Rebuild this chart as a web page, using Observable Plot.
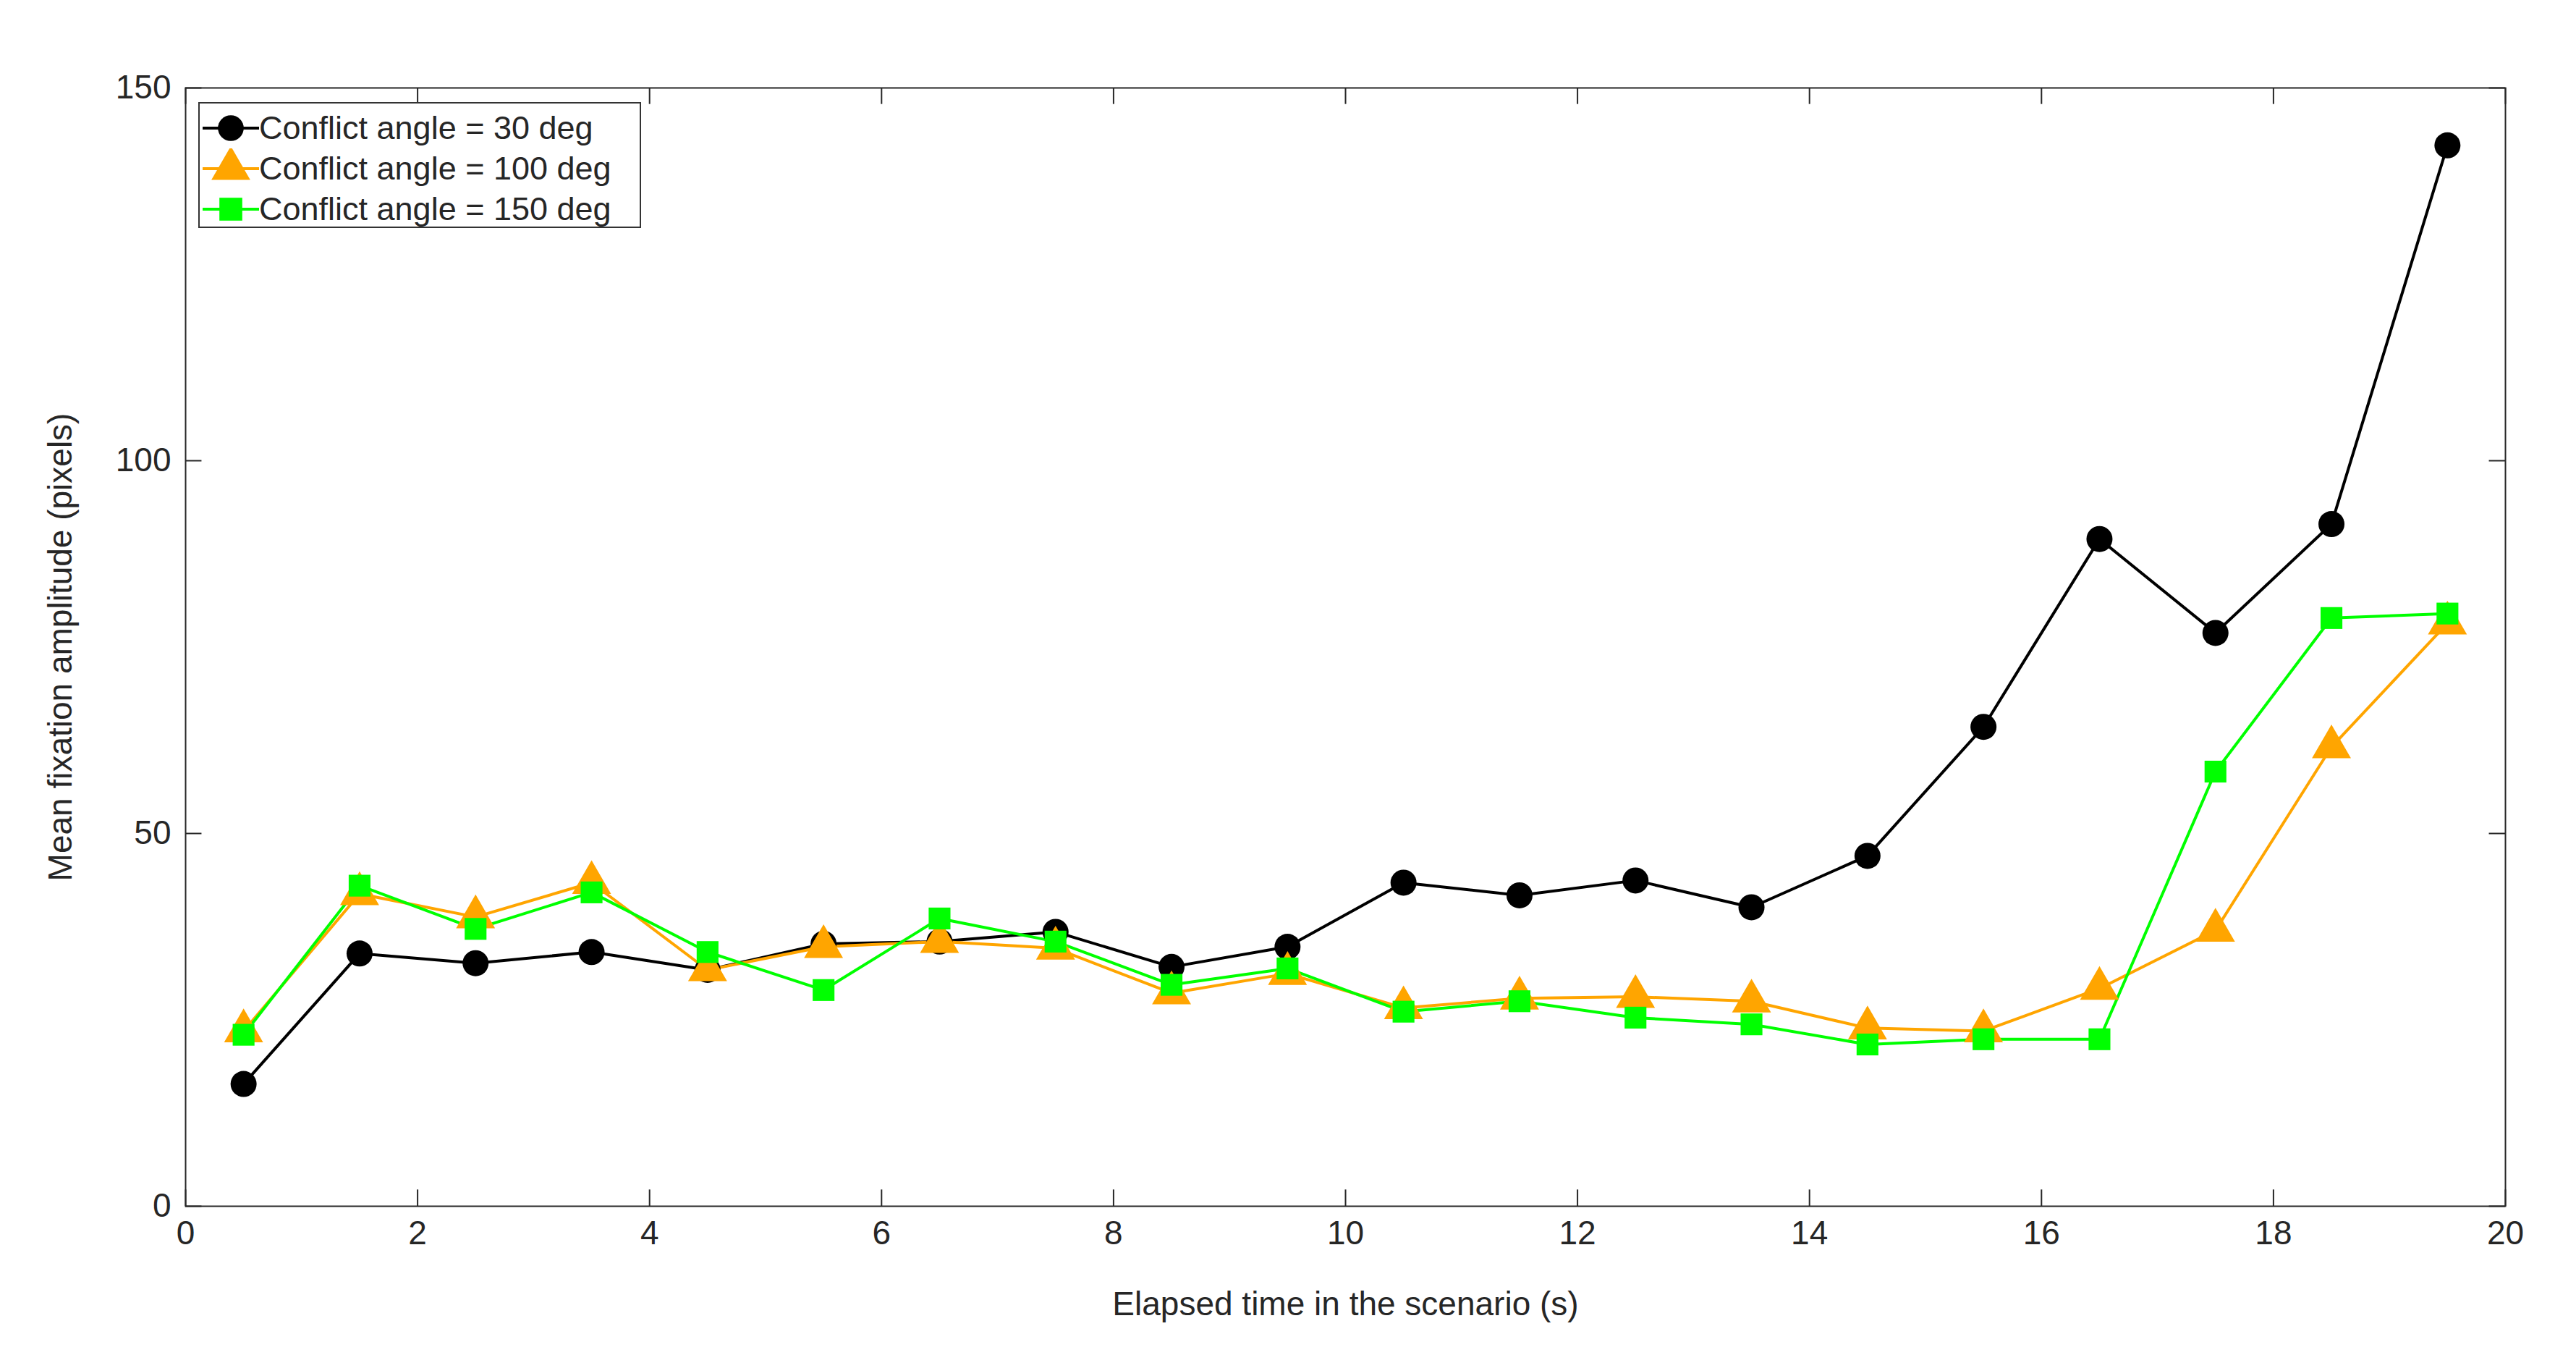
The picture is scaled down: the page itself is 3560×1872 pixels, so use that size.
<!DOCTYPE html>
<html><head><meta charset="utf-8">
<script src="https://cdn.jsdelivr.net/npm/d3@7"></script>
<script src="https://cdn.jsdelivr.net/npm/@observablehq/plot@0.6"></script>
<style>body{margin:0;background:#fff;font-family:Arial,"Liberation Sans",sans-serif}#wrap{position:relative;width:3560px;height:1872px}
#leg{position:absolute;left:274px;top:141px;width:612px;height:174px;border:2px solid #333;background:#fff;font-size:45px;box-sizing:border-box;color:#262626}
#leg div{position:absolute;left:82px;line-height:56px}
</style></head><body><div id="wrap"></div>
<script>
const time=[0.5,1.5,2.5,3.5,4.5,5.5,6.5,7.5,8.5,9.5,10.5,11.5,12.5,13.5,14.5,15.5,16.5,17.5,18.5,19.5];
const angle30=[16.4,33.9,32.6,34.1,31.7,35.2,35.5,36.8,32.1,34.8,43.4,41.7,43.7,40.1,47,64.3,89.5,76.9,91.5,142.3];
const angle100=[23.5,41.9,38.8,43.4,31.7,34.8,35.5,34.6,28.6,31.2,26.6,27.9,28.1,27.5,23.9,23.5,29.2,37,61.6,78.2];
const angle150=[23,43,37.2,42.1,34.1,29,38.6,35.5,29.7,31.9,26.1,27.5,25.3,24.4,21.7,22.4,22.4,58.3,78.9,79.5];
const xTicks=[0,2,4,6,8,10,12,14,16,18,20];
const yTicks=[0,50,100,150];
const labels=["Conflict angle = 30 deg","Conflict angle = 100 deg","Conflict angle = 150 deg"];
const colors=["#000000","#FFA500","#00FF00"];
const d=(v)=>time.map((t,i)=>({t,v:v[i]}));
const s30=d(angle30),s100=d(angle100),s150=d(angle150);
const plot=Plot.plot({width:3560,height:1872,marginLeft:256,marginRight:82+16,marginTop:121,marginBottom:206,
 style:{fontSize:"46px",fontFamily:"Arial, Liberation Sans, sans-serif",color:"#262626"},
 x:{domain:[0,20],ticks:xTicks,tickSize:0,tickPadding:20,label:"Elapsed time in the scenario (s)",labelAnchor:"center",labelArrow:false,labelOffset:150},
 y:{domain:[0,150],ticks:yTicks,tickSize:0,tickPadding:20,label:"Mean fixation amplitude (pixels)",labelAnchor:"center",labelArrow:false,labelOffset:190},
 marks:[
  Plot.frame({stroke:"#262626",strokeWidth:2}),
  Plot.ruleX(xTicks,{x:d=>d,y1:0,y2:2.2,stroke:"#262626",strokeWidth:2}),
  Plot.ruleX(xTicks,{x:d=>d,y1:147.8,y2:150,stroke:"#262626",strokeWidth:2}),
  Plot.ruleY(yTicks,{y:d=>d,x1:0,x2:0.14,stroke:"#262626",strokeWidth:2}),
  Plot.ruleY(yTicks,{y:d=>d,x1:19.86,x2:20,stroke:"#262626",strokeWidth:2}),
  Plot.line(s30,{x:"t",y:"v",stroke:colors[0],strokeWidth:4}),
  Plot.line(s100,{x:"t",y:"v",stroke:colors[1],strokeWidth:4}),
  Plot.line(s150,{x:"t",y:"v",stroke:colors[2],strokeWidth:4}),
  Plot.dot(s30,{x:"t",y:"v",fill:colors[0],r:18,symbol:"circle"}),
  Plot.dot(s100,{x:"t",y:"v",fill:colors[1],r:20,symbol:"triangle"}),
  Plot.dot(s150,{x:"t",y:"v",fill:colors[2],r:17,symbol:"square"})
 ]});
const wrap=document.getElementById("wrap");wrap.appendChild(plot);
const leg=document.createElement("div");leg.id="leg";
const sym=["circle","triangle","square"];
labels.forEach((l,i)=>{
 const row=document.createElement("div");row.style.top=(6+i*56)+"px";row.textContent=l;leg.appendChild(row);
 const svg=d3.create("svg").attr("width",90).attr("height",56).style("position","absolute").style("left","0px").style("top",(6+i*56)+"px");
 svg.append("line").attr("x1",4).attr("x2",82).attr("y1",28).attr("y2",28).attr("stroke",colors[i]).attr("stroke-width",4);
 const sz=[1000,1250,1000][i];
 svg.append("path").attr("transform","translate(43,28)").attr("d",d3.symbol(sym[i]==="circle"?d3.symbolCircle:sym[i]==="triangle"?d3.symbolTriangle:d3.symbolSquare,sz)()).attr("fill",colors[i]);
 leg.appendChild(svg.node());
});
wrap.appendChild(leg);
</script></body></html>
